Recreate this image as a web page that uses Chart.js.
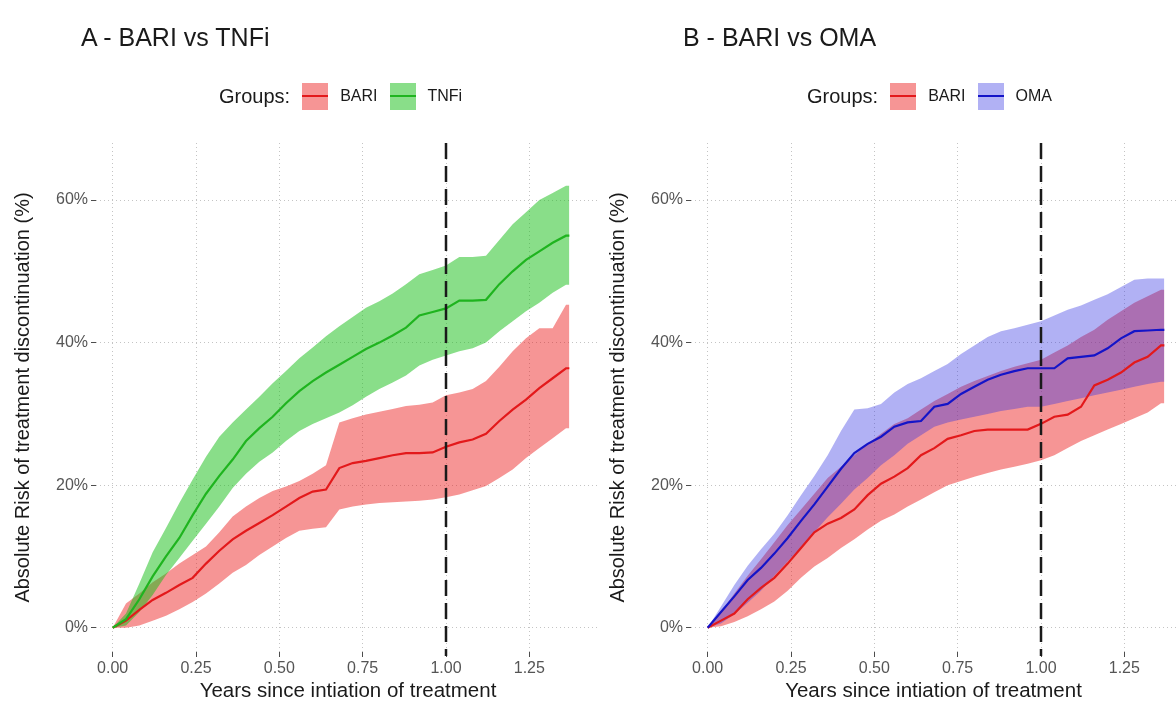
<!DOCTYPE html>
<html>
<head>
<meta charset="utf-8">
<script src="https://cdn.jsdelivr.net/npm/chart.js@4.4.1/dist/chart.umd.min.js"></script>
<style>
  html, body { margin: 0; padding: 0; background: #fff; overflow: hidden; }
  body { width: 1176px; height: 709px; position: relative; font-family: "Liberation Sans", Arial, sans-serif; color: #1a1a1a; }
  .panel { position: absolute; top: 0; height: 709px; }
  .panel canvas { position: absolute; left: 0; top: 0; }
  .title { position: absolute; top: 22px; font-size: 25px; line-height: 30px; white-space: nowrap; }
  .legend { position: absolute; top: 82px; height: 28px; display: flex; align-items: center; white-space: nowrap; }
  .legend .head { font-size: 20px; margin-right: 12px; }
  .legend .key { width: 26px; height: 27px; position: relative; margin-right: 12px; }
  .legend .key i { position: absolute; left: 0; right: 0; top: 12.5px; height: 2px; }
  .legend .lab { font-size: 16px; margin-right: 12px; }
</style>
</head>
<body>
<div class="panel" id="panelA" style="left:0px;width:600px;">
  <canvas id="chartA" width="600" height="709"></canvas>
  <div class="title" style="left:81px;">A - BARI vs TNFi</div>
  <div class="legend" id="legendA" style="left:219px;"></div>
</div>
<div class="panel" id="panelB" style="left:595px;width:581px;">
  <canvas id="chartB" width="581" height="709"></canvas>
  <div class="title" style="left:88px;">B - BARI vs OMA</div>
  <div class="legend" id="legendB" style="left:212px;"></div>
</div>
<script>
// years since initiation (shared time grid)
const years = [0, 0.04, 0.08, 0.12, 0.16, 0.20, 0.24, 0.28, 0.32, 0.36, 0.40, 0.44,
  0.48, 0.52, 0.56, 0.60, 0.64, 0.68, 0.72, 0.76, 0.80, 0.84, 0.88, 0.92, 0.96, 1.00,
  1.04, 1.08, 1.12, 1.16, 1.20, 1.24, 1.28, 1.32, 1.36, 1.37];

// Panel A: BARI vs TNFi (%)
const bariA = [0, 1.0, 2.5, 3.9, 4.9, 6.0, 7.0, 9.0, 10.8, 12.4, 13.6, 14.7, 15.8, 17.0, 18.2, 19.1, 19.4, 22.4,
  23.1, 23.4, 23.8, 24.2, 24.5, 24.5, 24.6, 25.4, 26.0, 26.4, 27.2, 29.0, 30.6, 32.0, 33.6, 35.0, 36.4, 36.4];
const bariHiA = [0, 3.4, 4.8, 6.4, 7.6, 9.0, 10.2, 11.4, 13.4, 15.6, 17.0, 18.2, 19.2, 19.8, 20.6, 21.6, 22.8, 28.8,
  29.4, 29.9, 30.3, 30.7, 31.1, 31.3, 31.6, 32.6, 33.0, 33.5, 34.6, 36.6, 38.8, 40.6, 42.0, 42.0, 45.3, 45.3];
const bariLoA = [0, 0, 0.3, 1.0, 1.7, 2.6, 3.6, 4.8, 6.2, 7.7, 8.8, 10.2, 11.4, 12.6, 13.6, 13.9, 14.1, 16.6,
  17.0, 17.3, 17.5, 17.6, 17.7, 17.8, 18.0, 18.3, 18.7, 19.3, 19.9, 21.0, 22.2, 23.8, 25.2, 26.6, 28.0, 28.0];
const tnfiA = [0, 1.2, 4.0, 7.2, 10.0, 12.6, 15.8, 18.8, 21.3, 23.6, 26.2, 28.0, 29.6, 31.5, 33.2, 34.6, 35.8, 36.9,
  38.0, 39.1, 40.0, 41.0, 42.1, 43.8, 44.3, 44.8, 45.9, 45.9, 46.0, 48.2, 50.0, 51.6, 52.8, 54.0, 55.0, 55.0];
const tnfiHiA = [0, 2.0, 6.2, 10.6, 14.0, 17.5, 20.8, 24.0, 26.8, 28.8, 30.6, 32.4, 34.3, 36.0, 37.8, 39.3, 40.9, 42.3,
  43.6, 44.9, 45.8, 46.9, 48.2, 49.6, 50.2, 50.8, 52.0, 52.0, 52.2, 54.4, 56.6, 58.3, 60.0, 61.0, 62.0, 62.0];
const tnfiLoA = [0, 0.3, 2.2, 4.6, 7.4, 9.8, 12.2, 14.6, 17.0, 19.6, 21.6, 23.3, 24.6, 26.2, 27.6, 28.6, 29.4, 30.2,
  31.2, 32.4, 33.5, 34.4, 35.4, 36.8, 37.6, 38.2, 38.8, 39.2, 40.0, 41.6, 43.0, 44.4, 45.6, 47.0, 48.1, 48.1];

// Panel B: BARI vs OMA (%)
const bariB = [0, 1.0, 2.0, 4.0, 5.6, 7.0, 9.0, 11.2, 13.4, 14.6, 15.4, 16.6, 18.6, 20.2, 21.2, 22.4, 24.2, 25.2,
  26.5, 27.0, 27.6, 27.8, 27.8, 27.8, 27.8, 28.6, 29.6, 29.9, 31.0, 34.0, 34.8, 35.8, 37.2, 38.0, 39.6, 39.6];
const bariHiB = [0, 2.2, 4.8, 7.3, 9.6, 12.0, 14.4, 16.6, 18.8, 21.0, 22.6, 24.2, 25.8, 27.2, 28.6, 29.4, 30.6, 31.8,
  32.8, 33.8, 34.6, 35.3, 36.0, 36.6, 37.1, 37.6, 38.6, 39.6, 40.8, 41.8, 43.2, 44.4, 45.6, 46.5, 47.4, 47.4];
const bariLoB = [0, 0.2, 0.8, 1.6, 2.6, 3.7, 5.2, 7.0, 8.6, 9.8, 11.2, 12.4, 13.8, 15.0, 15.9, 17.0, 18.0, 19.0,
  20.0, 20.6, 21.2, 21.7, 22.2, 22.6, 23.0, 23.5, 24.2, 25.2, 26.2, 27.0, 27.8, 28.6, 29.4, 30.2, 31.5, 31.5];
const omaB = [0, 2.2, 4.4, 6.7, 8.4, 10.4, 12.6, 15.0, 17.3, 19.8, 22.3, 24.5, 25.8, 26.8, 28.2, 28.8, 29.0, 31.0,
  31.4, 32.8, 33.8, 34.8, 35.5, 36.0, 36.4, 36.4, 36.4, 37.8, 38.0, 38.2, 39.2, 40.6, 41.6, 41.7, 41.8, 41.8];
const omaHiB = [0, 3.0, 6.0, 8.7, 11.0, 13.2, 15.8, 18.6, 21.3, 24.2, 27.6, 30.6, 30.8, 31.4, 33.0, 34.2, 35.0, 36.0,
  37.0, 38.4, 39.6, 40.8, 41.6, 42.0, 42.5, 43.0, 43.8, 44.6, 45.2, 46.0, 46.8, 47.8, 48.8, 49.0, 49.0, 49.0];
const omaLoB = [0, 0.6, 1.9, 3.5, 5.2, 7.3, 9.3, 11.2, 13.4, 15.5, 17.4, 19.4, 21.0, 22.8, 24.2, 25.8, 27.0, 28.2,
  28.8, 29.2, 29.6, 30.0, 30.4, 30.7, 31.0, 31.0, 31.4, 31.8, 32.2, 32.6, 33.0, 33.4, 33.8, 34.2, 34.5, 34.5];

const cutoffYear = 1;
const yTickStep = 20;
const xTickStep = 0.25;

const FONT = '"Liberation Sans", Arial, sans-serif';
const RED = '#e3191b', RED_FILL = 'rgba(235, 20, 20, 0.45)';
const GREEN = '#1fb41f', GREEN_FILL = 'rgba(20, 190, 20, 0.5)';
const BLUE = '#1414c8', BLUE_FILL = 'rgba(50, 50, 225, 0.38)';

function pts(ys) {
  return years.map((x, i) => ({ x: x, y: ys[i] }));
}

function band(hi, lo, fill, order) {
  return [
    { data: pts(hi), borderWidth: 0, borderColor: 'rgba(0,0,0,0)', pointRadius: 0, fill: false, order: 20 },
    { data: pts(lo), borderWidth: 0, borderColor: 'rgba(0,0,0,0)', pointRadius: 0, fill: '-1', backgroundColor: fill, order: order }
  ];
}

function line(vals, color, order) {
  return { data: pts(vals), borderColor: color, borderWidth: 2.2, pointRadius: 0, fill: false, order: order };
}

const cutoffLine = {
  id: 'cutoffLine',
  afterDatasetsDraw(chart) {
    const { ctx, chartArea, scales } = chart;
    const px = scales.x.getPixelForValue(cutoffYear);
    ctx.save();
    ctx.strokeStyle = '#1a1a1a';
    ctx.lineWidth = 2.5;
    ctx.setLineDash([16, 7]);
    ctx.beginPath();
    ctx.moveTo(px, chartArea.top);
    ctx.lineTo(px, chartArea.bottom + 4);
    ctx.stroke();
    ctx.restore();
  }
};

function makeChart(id, datasets, xMax) {
  const grid = { color: '#c4c4c4', lineWidth: 1, drawTicks: true, tickLength: 5, tickColor: '#4d4d4d', tickWidth: 1 };
  return new Chart(document.getElementById(id), {
    type: 'line',
    data: { datasets: datasets },
    options: {
      responsive: false,
      animation: false,
      devicePixelRatio: 1,
      layout: { padding: { top: 143, right: 0, bottom: 0, left: 0 } },
      plugins: { legend: { display: false }, tooltip: { enabled: false } },
      scales: {
        x: {
          type: 'linear',
          min: -0.05,
          max: xMax,
          afterFit: (s) => { s.height = 57; },
          ticks: {
            stepSize: xTickStep, includeBounds: false, autoSkip: false, maxRotation: 0, padding: 2,
            color: '#555', font: { family: FONT, size: 16 },
            callback: (v) => Number(v).toFixed(2)
          },
          grid: grid,
          border: { display: false, dash: [1, 3] },
          title: {
            display: true, text: 'Years since intiation of treatment', color: '#1a1a1a',
            font: { family: FONT, size: 20.5 }, padding: { top: 0, bottom: 5 }
          }
        },
        y: {
          type: 'linear',
          min: -3.4,
          max: 68,
          afterFit: (s) => { s.width = 96; },
          ticks: {
            stepSize: yTickStep, includeBounds: false, padding: 3,
            color: '#555', font: { family: FONT, size: 16 },
            callback: (v) => v + '%'
          },
          grid: grid,
          border: { display: false, dash: [1, 3] },
          title: {
            display: true, text: 'Absolute Risk of treatment discontinuation (%)', color: '#1a1a1a',
            font: { family: FONT, size: 20 }, padding: { top: 11, bottom: 0 }
          }
        }
      }
    },
    plugins: [cutoffLine]
  });
}

function makeLegend(id, names, lineColors, fillColors) {
  const el = document.getElementById(id);
  let html = '<span class="head">Groups:</span>';
  names.forEach((n, i) => {
    html += '<span class="key" style="background:' + fillColors[i] + '"><i style="background:' + lineColors[i] + '"></i></span>';
    html += '<span class="lab">' + n + '</span>';
  });
  el.innerHTML = html;
}

makeChart('chartA', [
  ...band(bariHiA, bariLoA, RED_FILL, 4),
  ...band(tnfiHiA, tnfiLoA, GREEN_FILL, 3),
  line(bariA, RED, 2),
  line(tnfiA, GREEN, 1)
], 1.462);

makeChart('chartB', [
  ...band(bariHiB, bariLoB, RED_FILL, 4),
  ...band(omaHiB, omaLoB, BLUE_FILL, 3),
  line(bariB, RED, 2),
  line(omaB, BLUE, 1)
], 1.405);

makeLegend('legendA', ['BARI', 'TNFi'], [RED, GREEN], [RED_FILL, GREEN_FILL]);
makeLegend('legendB', ['BARI', 'OMA'], [RED, BLUE], [RED_FILL, BLUE_FILL]);
</script>
</body>
</html>
